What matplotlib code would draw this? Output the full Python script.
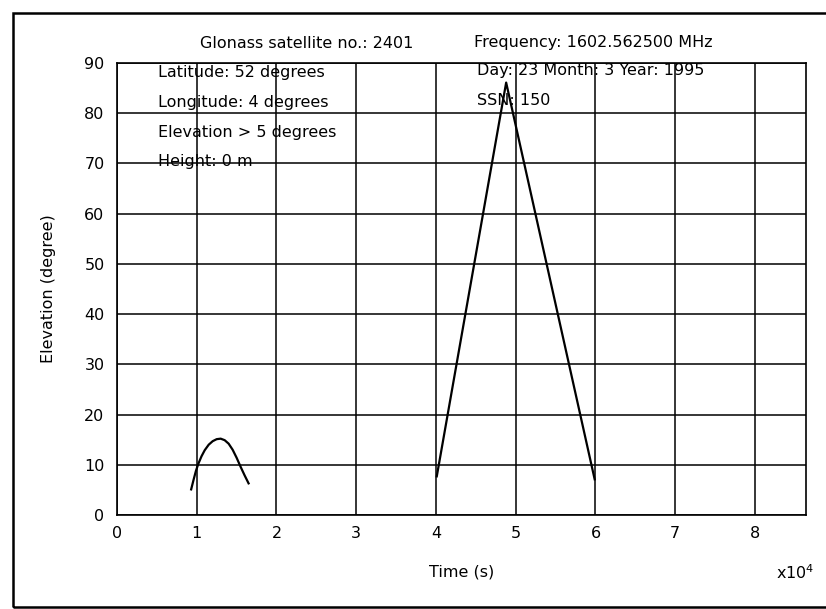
import matplotlib
matplotlib.use('Agg')
import matplotlib.pyplot as plt
from matplotlib.patches import Rectangle

# pass 1 (low arc) and pass 2 (high pass), time in units of 1e4 s
pass1_time = [0.93, 0.96, 0.99, 1.02, 1.06, 1.10, 1.15, 1.20, 1.25, 1.30,
              1.35, 1.40, 1.45, 1.50, 1.55, 1.60, 1.65]
pass1_elev = [5.1, 7.0, 8.8, 10.2, 11.7, 12.9, 14.0, 14.7, 15.1, 15.2,
              14.9, 14.2, 13.0, 11.4, 9.6, 7.9, 6.3]
pass2_time = [4.01, 4.88, 5.99]
pass2_elev = [7.7, 86.1, 7.1]

x_ticks = [0, 1, 2, 3, 4, 5, 6, 7, 8]
y_ticks = [0, 10, 20, 30, 40, 50, 60, 70, 80, 90]

info_left = ['Latitude: 52 degrees', 'Longitude: 4 degrees',
             'Elevation > 5 degrees', 'Height: 0 m']
info_right = ['Day: 23 Month: 3 Year: 1995', 'SSN: 150']

fig = plt.figure(figsize=(8.26, 6.09), dpi=100)
ax = fig.add_axes([117 / 826, 1 - 515 / 609, (806 - 117) / 826, (515 - 63) / 609])

ax.plot(pass1_time, pass1_elev, color='black', linewidth=1.6)
ax.plot(pass2_time, pass2_elev, color='black', linewidth=1.6)

ax.set_xlim(0, 8.64)
ax.set_ylim(0, 90)
ax.set_xticks(x_ticks)
ax.set_yticks(y_ticks)
ax.grid(True, color='black', linewidth=1.1)
ax.tick_params(length=0, labelsize=11.5, pad=9)
ax.tick_params(axis='x', pad=8)
for sp in ax.spines.values():
    sp.set_linewidth(1.2)

ax.set_xlabel('Time (s)', fontsize=11.5, labelpad=17)
ax.set_ylabel('Elevation (degree)', fontsize=11.5, labelpad=20)

# header and info text
fs = 11.5
fig.text(200 / 826, 1 - 43 / 609, 'Glonass satellite no.: 2401', fontsize=fs, va='center')
fig.text(474 / 826, 1 - 42 / 609, 'Frequency: 1602.562500 MHz', fontsize=fs, va='center')
for i, s in enumerate(info_left):
    fig.text(158 / 826, 1 - (73 + 29.5 * i) / 609, s, fontsize=fs, va='center')
for i, s in enumerate(info_right):
    fig.text(477 / 826, 1 - (71 + 29.5 * i) / 609, s, fontsize=fs, va='center')

fig.text(814 / 826, 1 - 573 / 609, r'x10$^4$', fontsize=fs, ha='right', va='center')

# outer frame
fig.patches.append(Rectangle((13 / 826, 1 - 607 / 609), 1, (607 - 13) / 609,
                             transform=fig.transFigure, fill=False,
                             edgecolor='black', linewidth=1.8))

fig.savefig('out.png', dpi=100)
